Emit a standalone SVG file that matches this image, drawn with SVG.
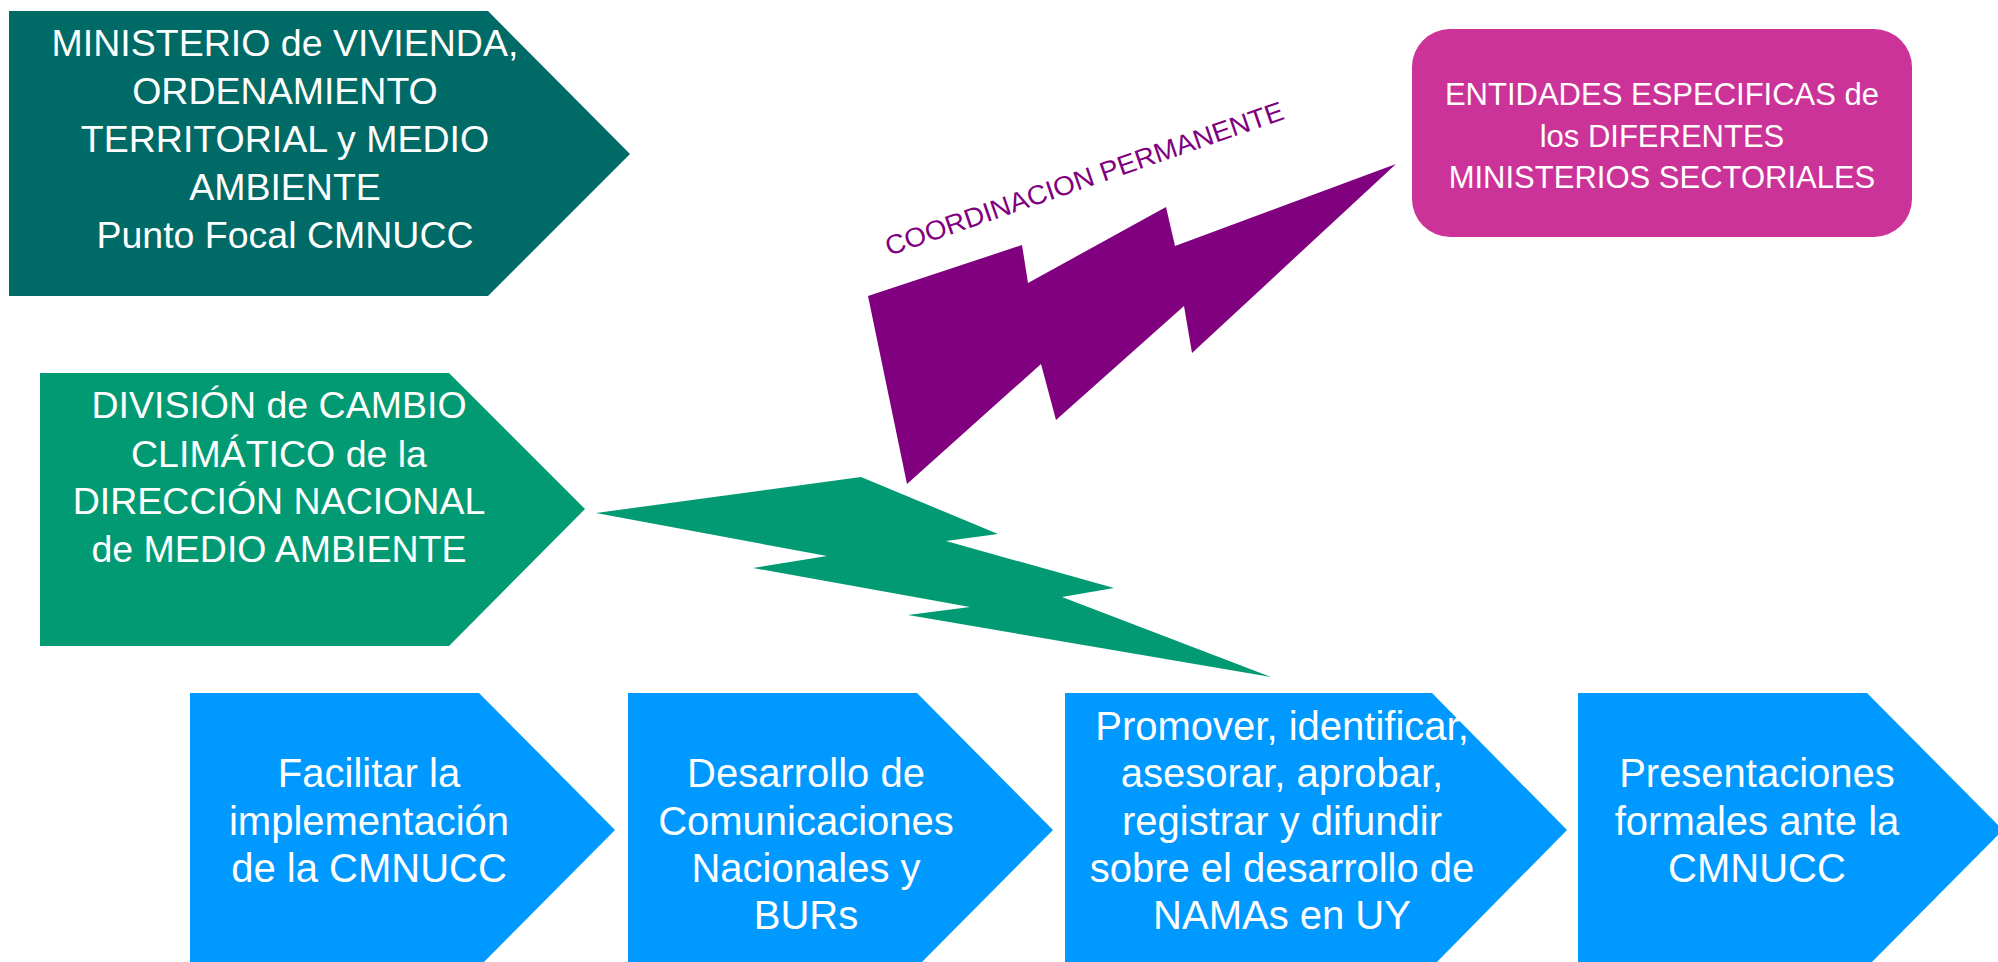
<svg xmlns="http://www.w3.org/2000/svg" width="1998" height="962" viewBox="0 0 1998 962">
<style>
  .t { font-family: "Liberation Sans", Arial, sans-serif; fill: #FFFFFF; text-anchor: middle; }
  .t1 { font-size: 37.5px; }
  .tp { font-size: 31px; }
  .tb { font-size: 40px; }
  .lbl { font-family: "Liberation Sans", Arial, sans-serif; fill: #800080; font-size: 27px; }
  .blue { fill: #0099FF; }
</style>
<rect width="1998" height="962" fill="#FFFFFF"/>

<g id="connectors">
  <polygon id="bolt-purple" fill="#800080" points="868,296 1022,245 1028,283 1166,207 1175,246 1396,164 1192,353 1184,306 1056,420 1041,364 907,484"/>
  <polygon id="bolt-green" fill="#029A72" points="596,513 861,477 998,534 946,541 1114,588 1062,597 1271,677 908,615 970,607 753,568 827,556"/>
  <text class="lbl" transform="translate(889,256) rotate(-19.1)" textLength="420" lengthAdjust="spacingAndGlyphs">COORDINACION PERMANENTE</text>
</g>

<g id="node-ministerio">
  <polygon fill="#006A66" points="9,11 488,11 630,154 488,296 9,296"/>
  <text class="t t1" x="285" y="56">MINISTERIO de VIVIENDA,</text>
  <text class="t t1" x="285" y="104">ORDENAMIENTO</text>
  <text class="t t1" x="285" y="152">TERRITORIAL y MEDIO</text>
  <text class="t t1" x="285" y="200">AMBIENTE</text>
  <text class="t t1" x="285" y="248">Punto Focal CMNUCC</text>
</g>

<g id="node-division">
  <polygon fill="#029A72" points="40,373 449,373 585,509 449,646 40,646"/>
  <text class="t t1" x="279" y="418">DIVISIÓN de CAMBIO</text>
  <text class="t t1" x="279" y="467">CLIMÁTICO de la</text>
  <text class="t t1" x="279" y="514">DIRECCIÓN NACIONAL</text>
  <text class="t t1" x="279" y="562">de MEDIO AMBIENTE</text>
</g>

<g id="node-entidades">
  <rect x="1412" y="29" width="500" height="208" rx="38" ry="38" fill="#CC3399"/>
  <text class="t tp" x="1662" y="105">ENTIDADES ESPECIFICAS de</text>
  <text class="t tp" x="1662" y="147">los DIFERENTES</text>
  <text class="t tp" x="1662" y="188">MINISTERIOS SECTORIALES</text>
</g>

<g id="node-facilitar">
  <polygon class="blue" points="190,693 479,693 615,830 479,967 190,967"/>
  <text class="t tb" x="369" y="787">Facilitar la</text>
  <text class="t tb" x="369" y="835">implementación</text>
  <text class="t tb" x="369" y="882">de la CMNUCC</text>
</g>

<g id="node-desarrollo">
  <polygon class="blue" points="628,693 917,693 1053,830 917,967 628,967"/>
  <text class="t tb" x="806" y="787">Desarrollo de</text>
  <text class="t tb" x="806" y="835">Comunicaciones</text>
  <text class="t tb" x="806" y="882">Nacionales y</text>
  <text class="t tb" x="806" y="929">BURs</text>
</g>

<g id="node-namas">
  <polygon class="blue" points="1065,693 1432,693 1567,830 1432,967 1065,967"/>
  <text class="t tb" x="1282" y="740">Promover, identificar,</text>
  <text class="t tb" x="1282" y="787">asesorar, aprobar,</text>
  <text class="t tb" x="1282" y="835">registrar y difundir</text>
  <text class="t tb" x="1282" y="882">sobre el desarrollo de</text>
  <text class="t tb" x="1282" y="929">NAMAs en UY</text>
</g>

<g id="node-presentaciones">
  <polygon class="blue" points="1578,693 1867,693 2003,830 1867,967 1578,967"/>
  <text class="t tb" x="1757" y="787">Presentaciones</text>
  <text class="t tb" x="1757" y="835">formales ante la</text>
  <text class="t tb" x="1757" y="882">CMNUCC</text>
</g>
</svg>
